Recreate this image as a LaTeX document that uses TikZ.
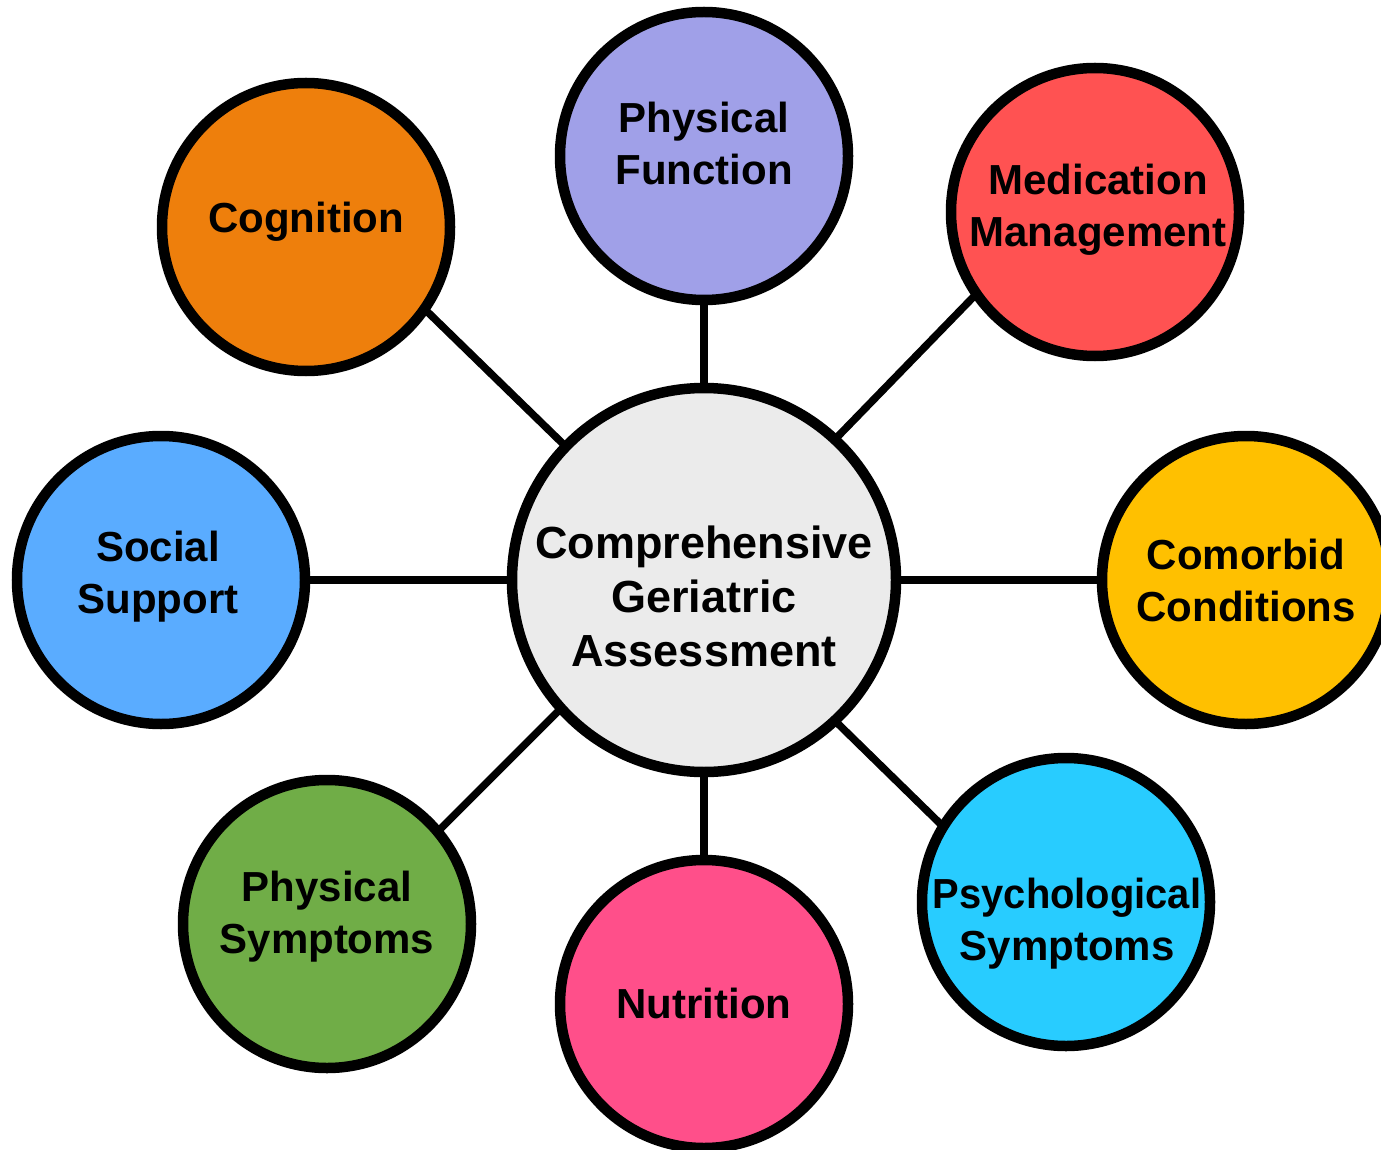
\documentclass[tikz,border=0pt]{standalone}
\usepackage{fontspec}
\setmainfont{Liberation Sans}
\usetikzlibrary{backgrounds}
\definecolor{cCenter}{RGB}{235,235,235}
\definecolor{cPhysF}{RGB}{160,160,232}
\definecolor{cCog}{RGB}{238,127,12}
\definecolor{cMed}{RGB}{255,82,82}
\definecolor{cComo}{RGB}{255,192,0}
\definecolor{cSoc}{RGB}{90,172,255}
\definecolor{cPhysS}{RGB}{112,173,71}
\definecolor{cNutr}{RGB}{255,79,138}
\definecolor{cPsy}{RGB}{40,204,255}
\begin{document}
\begin{tikzpicture}[x=1pt,y=-1pt,
  bubble/.style={circle,draw=black,line width=10.5pt,minimum size=288pt,inner sep=0pt},
  hub/.style={circle,draw=black,line width=10.5pt,minimum size=384pt,inner sep=0pt,fill=cCenter},
  lbl/.style={align=center,inner sep=0pt,font=\bfseries\fontsize{42}{52}\selectfont},
  hublbl/.style={align=center,inner sep=0pt,font=\bfseries\fontsize{45}{54}\selectfont},
  spoke/.style={draw=black,line width=7.5pt,shorten <=-14pt,shorten >=-14pt}]
\useasboundingbox (0,0) rectangle (1381,1150);
\clip (0,0) rectangle (1381,1150);

% central assessment circle
\node[hub] (hub) at (704,580) {};
\node[hublbl] (hubT) at (704,596) {Comprehensive\\Geriatric\\Assessment};

% surrounding domains
\node[bubble,fill=cPhysF] (physf) at (704,156) {};
\node[lbl] (physfT) at (704,143) {Physical\\Function};

\node[bubble,fill=cCog] (cog) at (306,227) {};
\node[lbl] (cogT) at (306,222) {Cognition};

\node[bubble,fill=cMed] (med) at (1095,212) {};
\node[lbl] (medT) at (1098,210) {Medication\\Management};

\node[bubble,fill=cComo] (como) at (1246,580) {};
\node[lbl] (comoT) at (1246,580) {Comorbid\\Conditions};

\node[bubble,fill=cSoc] (soc) at (161,580) {};
\node[lbl] (socT) at (158,577) {Social\\Support};

\node[bubble,fill=cPhysS] (physs) at (327,924) {};
\node[lbl] (physsT) at (327,917) {Physical\\Symptoms};

\node[bubble,fill=cNutr] (nutr) at (704,1004) {};
\node[lbl] (nutrT) at (704,1003) {Nutrition};

\node[bubble,fill=cPsy] (psy) at (1066,902) {};
\node[lbl] (psyT) at (1067,924) {\scalebox{0.95}[1]{Psychological}\\Symptoms};

% spokes behind the circles, each running between two rim points
\begin{pgfonlayer}{background}
  \draw[spoke] (hub.90)    -- (physf.270);
  \draw[spoke] (hub.0)     -- (como.180);
  \draw[spoke] (hub.180)   -- (soc.0);
  \draw[spoke] (hub.270)   -- (nutr.90);
  \draw[spoke] (hub.47.9)  -- (med.215.8);
  \draw[spoke] (hub.136.2) -- (cog.325.1);
  \draw[spoke] (hub.222.1) -- (physs.40.1);
  \draw[spoke] (hub.313.8) -- (psy.148.3);
\end{pgfonlayer}
\end{tikzpicture}
\end{document}
